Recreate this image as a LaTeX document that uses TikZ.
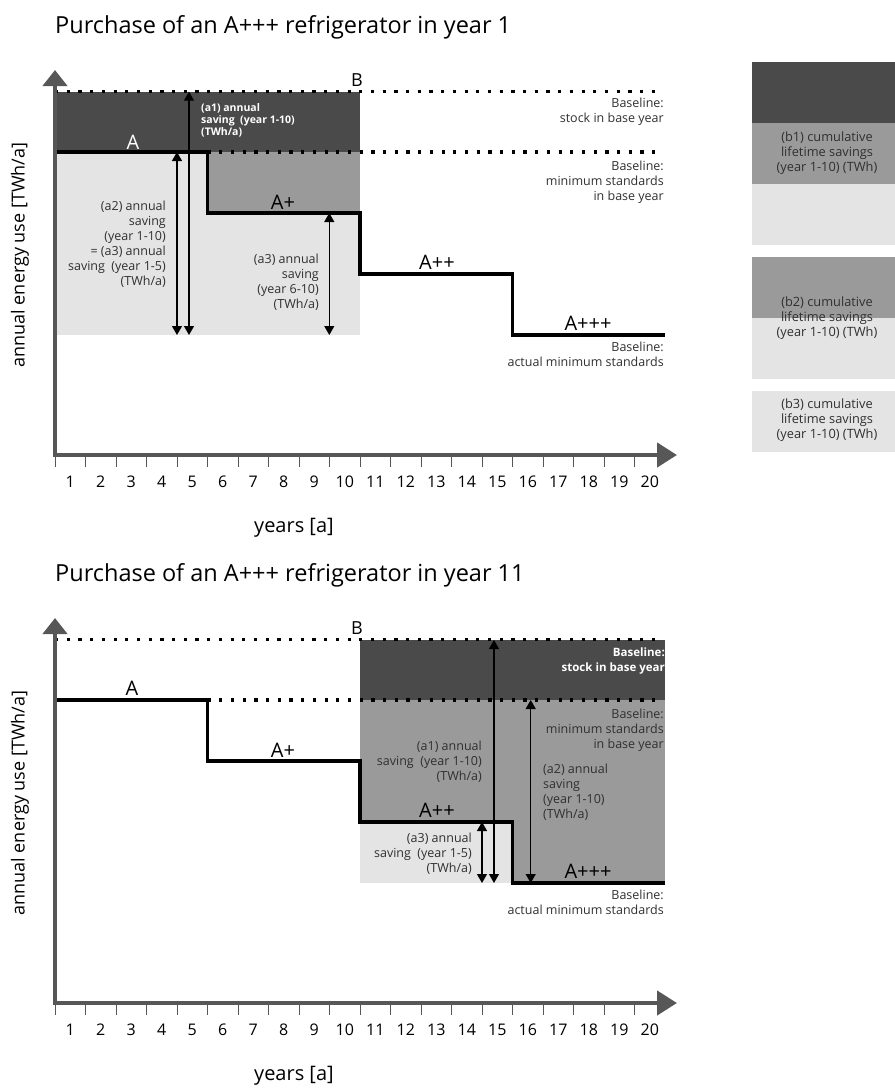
\documentclass[tikz,border=0pt]{standalone}
\usepackage{fontspec}
\setmainfont{Open Sans}
\usetikzlibrary{arrows.meta}

\definecolor{stockgray}{HTML}{4A4A4A}
\definecolor{stdgray}{HTML}{9A9A9A}
\definecolor{actgray}{HTML}{E4E4E4}
\definecolor{axisgray}{HTML}{575757}
\definecolor{notegray}{HTML}{303030}

\tikzset{
  axisline/.style={draw=axisgray, line width=4.5pt, line join=miter,
    {Triangle[length=16pt,width=24pt]}-{Triangle[length=20pt,width=24pt]}},
  tickmark/.style={draw=axisgray, line width=1pt},
  dotline/.style={line width=3.2pt, dash pattern=on 3.2pt off 8.5pt},
  stepline/.style={line width=3.8pt, line join=miter},
  saving/.style={line width=1.2pt,
    {Triangle[length=9pt,width=10pt]}-{Triangle[length=9pt,width=10pt]}},
  title/.style={font=\fontsize{23.5}{28}\selectfont, inner sep=0pt},
  axislabel/.style={font=\fontsize{18}{21}\selectfont, inner sep=0pt},
  ticklabel/.style={font=\fontsize{16}{19}\selectfont, inner sep=0pt},
  class/.style={font=\fontsize{20}{23}\selectfont, inner sep=0pt},
  note/.style={font=\fontsize{12.5}{15}\selectfont, text=notegray, inner sep=0pt},
  whitenote/.style={font=\bfseries\fontsize{10.5}{12}\selectfont, text=white, inner sep=0pt},
  keynote/.style={font=\fontsize{12.8}{14.8}\selectfont, text=notegray, inner sep=0pt, align=center},
}

\begin{document}
\begin{tikzpicture}[x=1pt,y=-1pt]
\useasboundingbox (0,0) rectangle (895,1088);

% Year 1: saving areas
\fill[actgray] (55,152) rectangle (360,335);
\fill[stdgray] (207.5,152) rectangle (360,213);
\fill[stockgray] (55,91.7) rectangle (360,152);

% Year 11: saving areas
\begin{scope}[shift={(0,548)}]
  \fill[stdgray] (360,152) rectangle (665,335);
  \fill[actgray] (360,274) rectangle (512.5,335);
  \fill[stockgray] (360,91.7) rectangle (665,152);
\end{scope}

% Legend
\fill[stockgray] (752,61.7) rectangle (895,123.3);
\fill[stdgray] (752,123.3) rectangle (895,184);
\fill[actgray] (752,184) rectangle (895,245);
\fill[stdgray] (752,256.7) rectangle (895,317.7);
\fill[actgray] (752,317.7) rectangle (895,379.3);
\fill[actgray] (752,390.7) rectangle (895,451.7);
\node[keynote] (b1) at (827,153) {(b1) cumulative\\lifetime savings\\(year 1-10) (TWh)};
\node[keynote] (b2) at (827,318) {(b2) cumulative\\lifetime savings\\(year 1-10) (TWh)};
\node[keynote] (b3) at (827,420) {(b3) cumulative\\lifetime savings\\(year 1-10) (TWh)};

% Axes, baselines and label steps of both charts
\foreach \dy/\yr in {0/1,548/11}{
  \begin{scope}[shift={(0,\dy)}]
    \node[title, anchor=base west] (title\yr) at (55,33) {Purchase of an A+++ refrigerator in year \yr};
    \draw[dotline] (55,91.7) -- (655,91.7);
    \draw[dotline] (207.5,152) -- (655,152);
    \draw[stepline] (55,152) -| (207.5,213) -| (360,274) -| (512.5,335) -- (665,335);
    \draw[axisline] (55,70) -- (55,455) -- (677,455);
    \foreach \k in {0,...,19}
      \draw[tickmark] ({55+30.5*\k},457) -- ++(0,10);
    \foreach \k in {1,...,20}
      \node[ticklabel] (yr\yr-\k) at ({55+30.5*(\k-0.5)},482) {\k};
    \node[axislabel, rotate=90] (ylab\yr) at (20,255) {annual energy use [TWh/a]};
    \node[axislabel, font=\fontsize{20}{23}\selectfont] (xlab\yr) at (294,528) {years [a]};

    \node[axislabel] (B\yr) at (357,80) {B};
    \node[class] (Ap\yr) at (283,202) {A+};
    \node[class] (App\yr) at (437,262) {A++};
    \node[class] (Appp\yr) at (588,323) {A+++};

    \node[note, align=right, anchor=east] (minstd\yr) at (664,182) {Baseline:\\minimum standards\\in base year};
    \node[note, align=right, anchor=east] (actual\yr) at (664,354.5) {Baseline:\\actual minimum standards};
  \end{scope}
}

% Year 1: savings
\coordinate (t1a) at (189,91.7);
\coordinate (t1b) at (189,335);
\coordinate (t2a) at (177,152);
\coordinate (t2b) at (177,335);
\coordinate (t3a) at (329.3,213);
\coordinate (t3b) at (329.3,335);
\draw[saving] (t1a) -- (t1b);
\draw[saving] (t2a) -- (t2b);
\draw[saving] (t3a) -- (t3b);

\node[class, text=white] (A1) at (133,142) {A};
\node[whitenote, align=left, anchor=west] (a1year1) at (201,120) {(a1) annual\\saving~~(year 1-10)\\(TWh/a)};
\node[note, align=right, anchor=east] (a2year1) at (166,244) {(a2) annual\\saving\\(year 1-10)\\= (a3) annual\\saving~~(year 1-5)\\(TWh/a)};
\node[note, align=right, anchor=east] (a3year1) at (319,282) {(a3) annual\\saving\\(year 6-10)\\(TWh/a)};
\node[note, align=right, anchor=east] (stock1) at (664,112) {Baseline:\\stock in base year};

% Year 11: savings
\coordinate (e1a) at (494,640);
\coordinate (e1b) at (494,883);
\coordinate (e2a) at (530.7,700);
\coordinate (e2b) at (530.7,883);
\coordinate (e3a) at (482,822);
\coordinate (e3b) at (482,883);
\draw[saving] (e1a) -- (e1b);
\draw[saving] (e2a) -- (e2b);
\draw[saving] (e3a) -- (e3b);

\node[class] (A11) at (132,688) {A};
\node[whitenote, font=\bfseries\fontsize{11.5}{15}\selectfont, align=right, anchor=east] (stock11) at (665,661) {Baseline:\\stock in base year};
\node[note, align=right, anchor=east] (a1year11) at (482,762) {(a1) annual\\saving~~(year 1-10)\\(TWh/a)};
\node[note, align=left, anchor=west] (a2year11) at (543,792.5) {(a2) annual\\saving\\(year 1-10)\\(TWh/a)};
\node[note, align=right, anchor=east] (a3year11) at (472,854) {(a3) annual\\saving~~(year 1-5)\\(TWh/a)};

\end{tikzpicture}
\end{document}
